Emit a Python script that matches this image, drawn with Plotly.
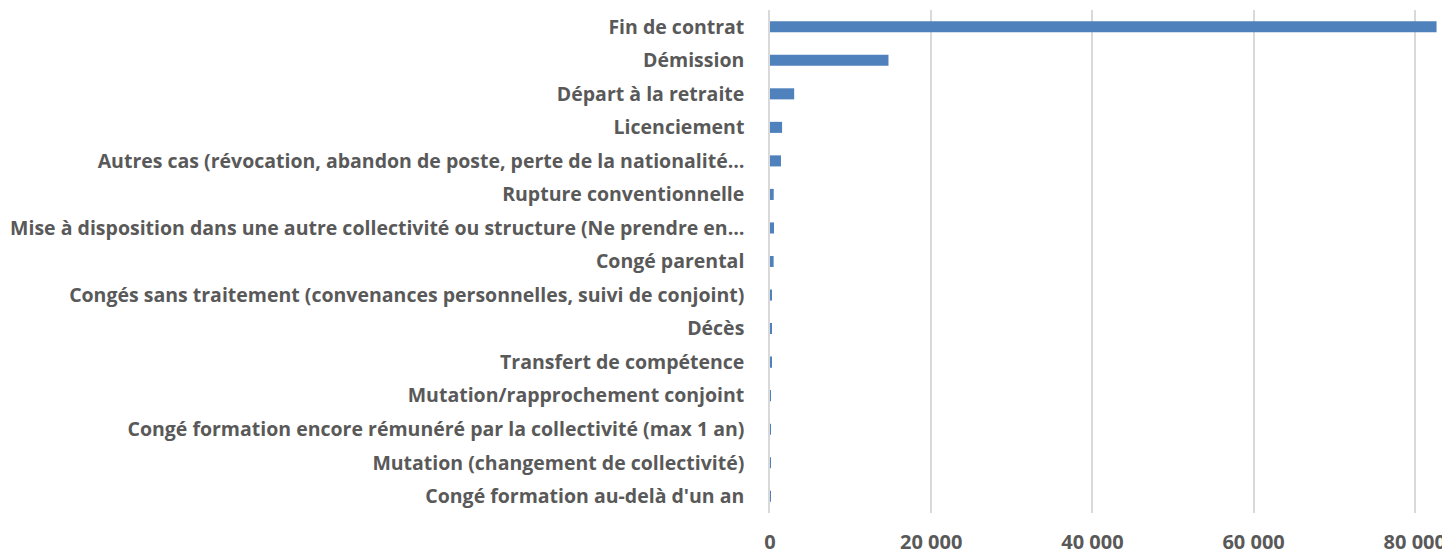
import plotly.graph_objects as go

# motifs de départ, du plus fréquent au moins fréquent
categories = [
    "Fin de contrat",
    "Démission",
    "Départ à la retraite",
    "Licenciement",
    "Autres cas (révocation, abandon de poste, perte de la nationalité…",
    "Rupture conventionnelle",
    "Mise à disposition dans une autre collectivité ou structure (Ne prendre en…",
    "Congé parental",
    "Congés sans traitement (convenances personnelles, suivi de conjoint)",
    "Décès",
    "Transfert de compétence",
    "Mutation/rapprochement conjoint",
    "Congé formation encore rémunéré par la collectivité (max 1 an)",
    "Mutation (changement de collectivité)",
    "Congé formation au-delà d'un an",
]
values = [82700, 14700, 3000, 1500, 1360, 460, 500, 450, 250, 220, 200, 40, 25, 15, 8]

tick_vals = [0, 20000, 40000, 60000, 80000]
tick_text = ["0", "20 000", "40 000", "60 000", "80 000"]

font_family = "Open Sans"
grey = "#595959"

fig = go.Figure(go.Bar(
    x=values,
    y=categories,
    orientation="h",
    marker=dict(color="#4F81BD", line=dict(width=0)),
))

# the page body keeps its default 8px margin, so the figure is a bit smaller
fig.update_layout(
    width=1442,
    height=546,
    margin=dict(l=762, r=7, t=2, b=41),
    plot_bgcolor="white",
    paper_bgcolor="white",
    bargap=0.67,
    showlegend=False,
    font=dict(family=font_family, size=18, color=grey),
)

fig.update_xaxes(
    range=[0, 83500],
    tickvals=tick_vals,
    ticktext=tick_text,
    showgrid=True,
    gridcolor="#D9D9D9",
    gridwidth=1.5,
    zeroline=False,
    showline=False,
    ticks="",
    automargin=False,
    ticklabelstandoff=15,
    tickfont=dict(family=font_family, size=20, color=grey, weight="bold"),
)

fig.update_yaxes(
    autorange="reversed",
    showline=True,
    linecolor="#D9D9D9",
    linewidth=1.5,
    ticks="",
    automargin=False,
    ticklabelstandoff=20,
    tickfont=dict(family=font_family, size=19.5, color=grey, weight="bold"),
)

fig.write_html("out.html")
